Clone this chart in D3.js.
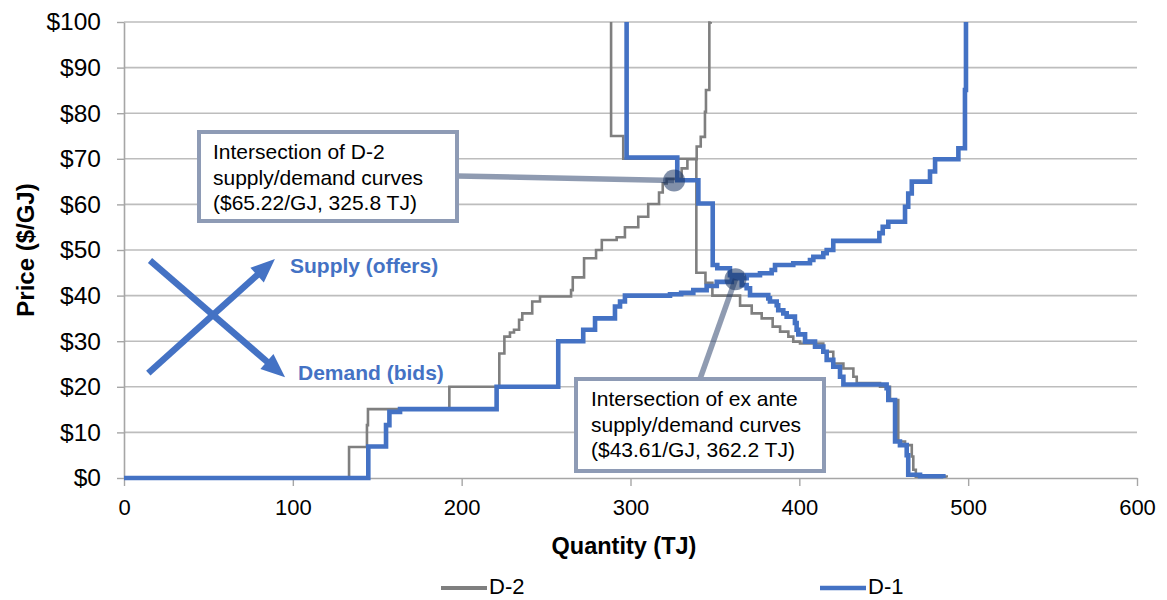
<!DOCTYPE html>
<html>
<head>
<meta charset="utf-8">
<script src="https://cdn.jsdelivr.net/npm/d3@7"></script>
<style>
  body { margin: 0; background: #fff; }
  svg text { font-family: "Liberation Sans", Arial, sans-serif; }
</style>
</head>
<body>
<svg id="chart" width="1167" height="600"></svg>
<script>
// Axis ticks
const quantityTicks = [0, 100, 200, 300, 400, 500, 600];
const priceTicks = [0, 10, 20, 30, 40, 50, 60, 70, 80, 90, 100];

// Step curves as [quantity TJ, price $/GJ] breakpoints (price holds until the next quantity)
const d2Supply = [[0,0],[133.3,6.8],[143.9,11.6],[144.5,15.1],[192.7,20],[222.3,27.3],[225.3,31.0],[228.6,31.9],[231,32.5],[234,34.7],[235.9,36.1],[241.8,38.7],[246.4,39.8],[264.8,41.2],[265.8,44.0],[272.5,48.2],[279.6,50],[283,52.2],[291.8,52.8],[296.7,55],[304.6,57.3],[310.5,60.1],[316.9,62.6],[319.1,64.6],[321.4,65.6],[330.3,67.9],[333.7,69.9],[339.2,72.7],[341.6,74.8],[344.1,80.3],[344.7,85.1],[346.7,99.9],[347.5,100]];
const d2Demand = [[288.5,100],[288.5,75],[295.7,70],[339.0,45],[344.4,42.8],[348.5,40],[364.9,37.8],[371.8,36.1],[377.7,35],[384.2,33.2],[388.6,32.1],[393.5,31],[396.4,29.9],[400.4,29.5],[414.2,27.7],[420.1,25.1],[426.1,24],[432,22.2],[434,20.8],[447.8,20],[453.7,17.1],[458.6,8.0],[462.6,7.2],[466.6,4.7],[467.5,1.8],[469,0.3],[487.3,0.1]];
const d1Supply = [[0,0],[144.7,6.9],[155.2,11.6],[157.2,14.5],[163.5,15.1],[220.7,20],[257.2,30],[272,32.5],[279,35],[290.8,37.6],[293.8,38.7],[296.7,40],[323.4,40.3],[330,40.6],[337.2,41.2],[345.1,42.1],[351.1,43],[360,43.8],[368.8,44.5],[376.7,44.9],[383.6,45.6],[385.6,46.7],[396.4,47.1],[406.3,47.8],[408.3,48.5],[414.2,49.3],[416.2,50],[420.1,52],[447.4,53.7],[449.4,55.1],[452.7,56.2],[462.6,59.5],[464.5,62.4],[466.6,65],[477.4,67.2],[480.4,69.9],[494.2,72.3],[498.1,85.1],[498.7,100]];
const d1Demand = [[297.7,100],[297.7,70.3],[327.7,65.3],[340.2,60.2],[348.7,46.7],[351.4,46],[358.9,44.5],[365.9,42.3],[368.8,41.6],[370.8,40.1],[381.6,39.4],[382.6,38.7],[386.6,37.9],[387.5,36.8],[390.5,36.1],[392.5,35.4],[397.4,34],[398.4,32.5],[399.4,31.5],[403.4,29.9],[409.3,28.8],[414.2,27.7],[416.2,25.9],[420.1,24.4],[424.1,22.2],[426.1,20.5],[451.7,19.7],[452.7,17.1],[456.7,8],[459.6,7.2],[463.6,5],[464.5,0.7],[471.5,0.4],[485.3,0]];

const seriesNames = ["D-2", "D-1"];
const seriesColors = ["#7f7f7f", "#4472c4"];

// Market clearing points
const clearTitles = ["Intersection of D-2", "Intersection of ex ante"];
const clearPrice = [65.22, 43.61];
const clearQty = [325.8, 362.2];

// Direction legend inside the plot
const arrowLabels = ["Supply (offers)", "Demand (bids)"];

const svg = d3.select("#chart");
const plotLeft = 124, plotRight = 1137, plotTop = 22, plotBottom = 478;

const x = d3.scaleLinear().domain([0, 600]).range([plotLeft, plotRight]);
const y = d3.scaleLinear().domain([0, 100]).range([plotBottom, plotTop]);

// Gridlines
svg.append("g")
  .selectAll("line")
  .data(priceTicks.filter(d => d > 0))
  .join("line")
  .attr("x1", plotLeft).attr("x2", plotRight)
  .attr("y1", d => y(d)).attr("y2", d => y(d))
  .attr("stroke", "#bdbdbd").attr("stroke-width", 1.6);

// Y axis
const yAxis = svg.append("g")
  .attr("transform", `translate(${plotLeft},0)`)
  .call(d3.axisLeft(y).tickValues(priceTicks).tickFormat(d => "$" + d).tickSize(7).tickSizeOuter(0).tickPadding(16));
yAxis.select(".domain").attr("stroke", "#a6a6a6").attr("stroke-width", 1.6);
yAxis.selectAll(".tick line").attr("stroke", "#a6a6a6").attr("stroke-width", 1.4);
yAxis.selectAll(".tick text").attr("font-size", 24.5).attr("fill", "#000")
  .style("font-family", "'Liberation Sans', Arial, sans-serif");

// X axis
const xAxis = svg.append("g")
  .attr("transform", `translate(0,${plotBottom})`)
  .call(d3.axisBottom(x).tickValues(quantityTicks).tickSize(8).tickSizeOuter(0).tickPadding(13));
xAxis.select(".domain").attr("stroke", "#a6a6a6").attr("stroke-width", 1.6);
xAxis.selectAll(".tick line").attr("stroke", "#a6a6a6").attr("stroke-width", 1.4);
xAxis.selectAll(".tick text").attr("font-size", 22).attr("fill", "#000")
  .style("font-family", "'Liberation Sans', Arial, sans-serif");

// Axis titles
svg.append("text")
  .attr("x", 624).attr("y", 554)
  .attr("text-anchor", "middle").attr("font-size", 23.5).attr("font-weight", "bold")
  .text("Quantity (TJ)");
svg.append("text")
  .attr("transform", `translate(34,${(plotTop + plotBottom) / 2}) rotate(-90)`)
  .attr("text-anchor", "middle").attr("font-size", 24).attr("font-weight", "bold")
  .text("Price ($/GJ)");

// Step curves
const line = d3.line().x(d => x(d[0])).y(d => y(d[1])).curve(d3.curveStepAfter);
const curves = [
  { data: d2Supply, s: 0 }, { data: d2Demand, s: 0 },
  { data: d1Supply, s: 1 }, { data: d1Demand, s: 1 }
];
svg.append("g").selectAll("path")
  .data(curves)
  .join("path")
  .attr("d", d => line(d.data))
  .attr("fill", "none")
  .attr("stroke", d => seriesColors[d.s])
  .attr("stroke-width", d => d.s === 0 ? 2.6 : 4.6)
  .attr("stroke-linejoin", "miter");

// Supply / demand direction arrows
const arrows = [
  { from: [14.4, 23.0], to: [89.4, 48.0] },
  { from: [15.4, 47.7], to: [95.4, 22.1] }
];
const arrowG = svg.append("g");
arrows.forEach(a => {
  const x0 = x(a.from[0]), y0 = y(a.from[1]);
  const x1 = x(a.to[0]), y1 = y(a.to[1]);
  const dx = x1 - x0, dy = y1 - y0, len = Math.hypot(dx, dy);
  const ux = dx / len, uy = dy / len;
  const headLen = 24, headHalf = 10;
  const bx = x1 - ux * headLen, by = y1 - uy * headLen;
  arrowG.append("line")
    .attr("x1", x0).attr("y1", y0).attr("x2", bx + ux * 2).attr("y2", by + uy * 2)
    .attr("stroke", "#4472c4").attr("stroke-width", 6.5);
  arrowG.append("path")
    .attr("d", `M${x1},${y1}L${bx - uy * headHalf},${by + ux * headHalf}L${bx + uy * headHalf},${by - ux * headHalf}Z`)
    .attr("fill", "#4472c4");
});
svg.append("text").attr("x", 290).attr("y", 273)
  .attr("font-size", 21).attr("font-weight", "bold").attr("fill", "#4472c4")
  .text(arrowLabels[0]);
svg.append("text").attr("x", 298).attr("y", 380)
  .attr("font-size", 21).attr("font-weight", "bold").attr("fill", "#4472c4")
  .text(arrowLabels[1]);

// Callouts for the clearing points
const callouts = [
  { box: [199, 132, 258, 89], textX: 213, anchor: [457, 176] },
  { box: [576, 379, 248, 92], textX: 591, anchor: [700, 379] }
];
const calloutStroke = "rgba(31,56,100,0.5)";
callouts.forEach((c, i) => {
  const cx = x(clearQty[i]), cy = y(clearPrice[i]);
  svg.append("line")
    .attr("x1", c.anchor[0]).attr("y1", c.anchor[1]).attr("x2", cx).attr("y2", cy)
    .attr("stroke", calloutStroke).attr("stroke-width", 5.5);
  svg.append("circle")
    .attr("cx", cx).attr("cy", cy).attr("r", 11)
    .attr("fill", "rgba(26,53,99,0.55)");
  svg.append("rect")
    .attr("x", c.box[0]).attr("y", c.box[1]).attr("width", c.box[2]).attr("height", c.box[3])
    .attr("fill", "#fff").attr("stroke", "#8e9bb5").attr("stroke-width", 4);
  const lines = [
    clearTitles[i],
    "supply/demand curves",
    `($${clearPrice[i].toFixed(2)}/GJ, ${clearQty[i].toFixed(1)} TJ)`
  ];
  svg.append("g").selectAll("text").data(lines).join("text")
    .attr("x", c.textX).attr("y", (d, k) => c.box[1] + 27 + k * 25.5)
    .attr("font-size", 21).attr("fill", "#000")
    .text(d => d);
});

// Legend
const legend = svg.append("g");
const legendX = [441, 820];
seriesNames.forEach((name, i) => {
  legend.append("line")
    .attr("x1", legendX[i]).attr("x2", legendX[i] + 46)
    .attr("y1", 588).attr("y2", 588)
    .attr("stroke", seriesColors[i]).attr("stroke-width", i === 0 ? 4 : 4.6);
  legend.append("text")
    .attr("x", legendX[i] + 48).attr("y", 594)
    .attr("font-size", 22).attr("fill", "#000")
    .text(name);
});
</script>
</body>
</html>
